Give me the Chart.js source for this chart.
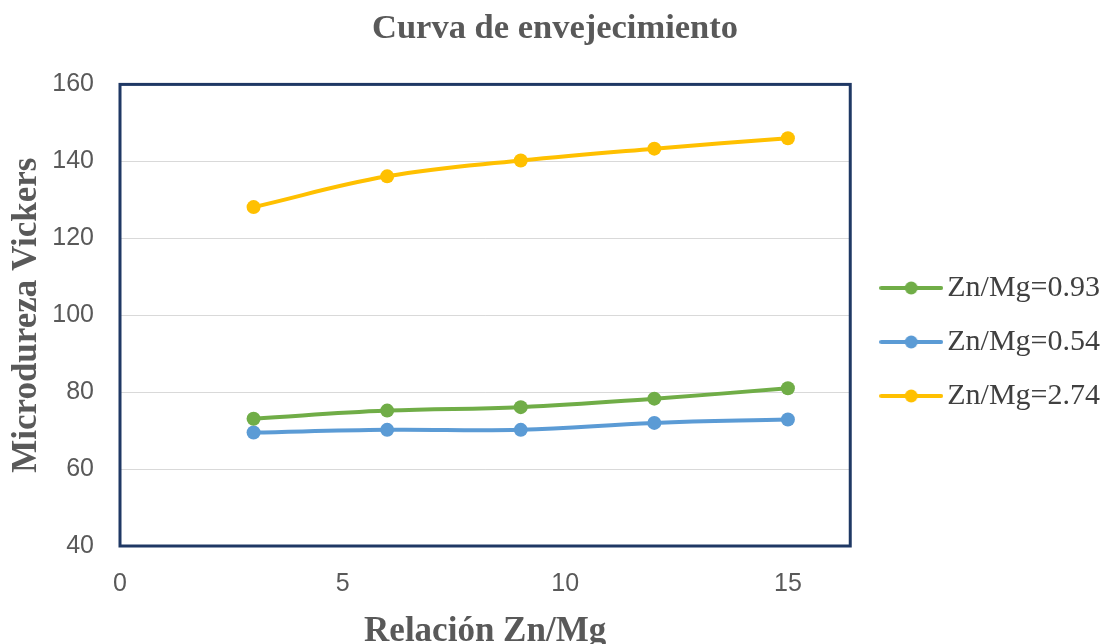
<!DOCTYPE html>
<html lang="es">
<head>
    <meta charset="UTF-8">
    <title>Curva de envejecimiento</title>
    <script src="https://cdn.jsdelivr.net/npm/chart.js"></script>
    <style>
        body {
            margin: 0;
            background-color: #ffffff;
        }
        #chartBox {
            width: 1110px;
            height: 644px;
        }
    </style>
</head>
<body>
    <div id="chartBox">
        <canvas id="agingChart" width="1110" height="644"></canvas>
    </div>

    <script>
        // datos
        const ratios = [3, 6, 9, 12, 15];
        const seriesNames = ['Zn/Mg=0.93', 'Zn/Mg=0.54', 'Zn/Mg=2.74'];
        const hv093 = [73.1, 75.2, 76.1, 78.3, 81.0];
        const hv054 = [69.5, 70.2, 70.2, 72.0, 72.9];
        const hv274 = [128.1, 136.1, 140.2, 143.3, 146.0];
        const seriesColors = ['#70ad47', '#5b9bd5', '#ffc000'];
        const yTicks = [40, 60, 80, 100, 120, 140, 160];
        const xTicks = [0, 5, 10, 15];

        const serif = "'Liberation Serif', 'Times New Roman', serif";
        const sans = "'Liberation Sans', Arial, sans-serif";

        // icono de leyenda: linea con punto al centro
        function legendIcon(color) {
            const c = document.createElement('canvas');
            c.width = 64;
            c.height = 16;
            const g = c.getContext('2d');
            g.strokeStyle = color;
            g.lineWidth = 4;
            g.lineCap = 'round';
            g.beginPath();
            g.moveTo(2, 8);
            g.lineTo(62, 8);
            g.stroke();
            g.fillStyle = color;
            g.beginPath();
            g.arc(32, 8, 6.5, 0, Math.PI * 2);
            g.fill();
            return c;
        }
        const icons = seriesColors.map(legendIcon);

        // marco del area de trazado
        const plotFrame = {
            id: 'plotFrame',
            beforeDatasetsDraw(chart) {
                const a = chart.chartArea;
                const ctx = chart.ctx;
                ctx.save();
                ctx.strokeStyle = '#1f3864';
                ctx.lineWidth = 3;
                ctx.strokeRect(a.left, a.top, a.right - a.left, a.bottom - a.top);
                ctx.restore();
            }
        };

        const allSeries = [hv093, hv054, hv274];
        const datasets = allSeries.map((vals, i) => ({
            label: seriesNames[i],
            data: ratios.map((r, j) => ({ x: r, y: vals[j] })),
            borderColor: seriesColors[i],
            backgroundColor: seriesColors[i],
            borderWidth: 4,
            pointRadius: 7,
            pointHoverRadius: 7,
            pointBorderWidth: 0,
            tension: 0.4,
            fill: false
        }));

        new Chart(document.getElementById('agingChart'), {
            type: 'line',
            data: { datasets: datasets },
            plugins: [plotFrame],
            options: {
                responsive: false,
                animation: false,
                layout: { padding: 0 },
                scales: {
                    x: {
                        type: 'linear',
                        min: 0,
                        max: 16.4,
                        grid: { display: false },
                        border: { display: false },
                        afterBuildTicks(s) { s.ticks = xTicks.map(v => ({ value: v })); },
                        ticks: {
                            includeBounds: false,
                            padding: 15,
                            color: '#595959',
                            font: { family: sans, size: 25 }
                        },
                        title: {
                            display: true,
                            text: 'Relación Zn/Mg',
                            color: '#595959',
                            padding: 0,
                            font: { family: serif, size: 35, weight: 'bold', lineHeight: 0.7 }
                        },
                        afterFit(s) { s.height = 98; }
                    },
                    y: {
                        min: 40,
                        max: 160,
                        afterBuildTicks(s) { s.ticks = yTicks.map(v => ({ value: v })); },
                        grid: { color: '#d9d9d9', lineWidth: 1, drawTicks: false },
                        border: { display: false },
                        ticks: {
                            padding: 26,
                            color: '#595959',
                            font: { family: sans, size: 25 }
                        },
                        title: {
                            display: true,
                            text: 'Microdureza Vickers',
                            color: '#595959',
                            padding: { top: 6, bottom: 0 },
                            font: { family: serif, size: 35, weight: 'bold' }
                        },
                        afterFit(s) { s.width = 120; }
                    },
                    gap: {
                        position: 'right',
                        display: false,
                        afterFit(s) { s.width = 16; }
                    }
                },
                plugins: {
                    title: {
                        display: true,
                        text: 'Curva de envejecimiento',
                        color: '#595959',
                        padding: { top: 8, bottom: 35 },
                        font: { family: serif, size: 34.5, weight: 'bold' }
                    },
                    legend: {
                        position: 'right',
                        title: { display: true, text: '', padding: 14, font: { size: 10 } },
                        labels: {
                            usePointStyle: true,
                            pointStyleWidth: 42,
                            padding: 24,
                            color: '#404040',
                            font: { family: serif, size: 30 },
                            generateLabels(chart) {
                                const items = Chart.defaults.plugins.legend.labels.generateLabels(chart);
                                items.forEach((it, i) => { it.pointStyle = icons[i]; });
                                return items;
                            }
                        }
                    },
                    tooltip: { enabled: false }
                }
            }
        });
    </script>
</body>
</html>
